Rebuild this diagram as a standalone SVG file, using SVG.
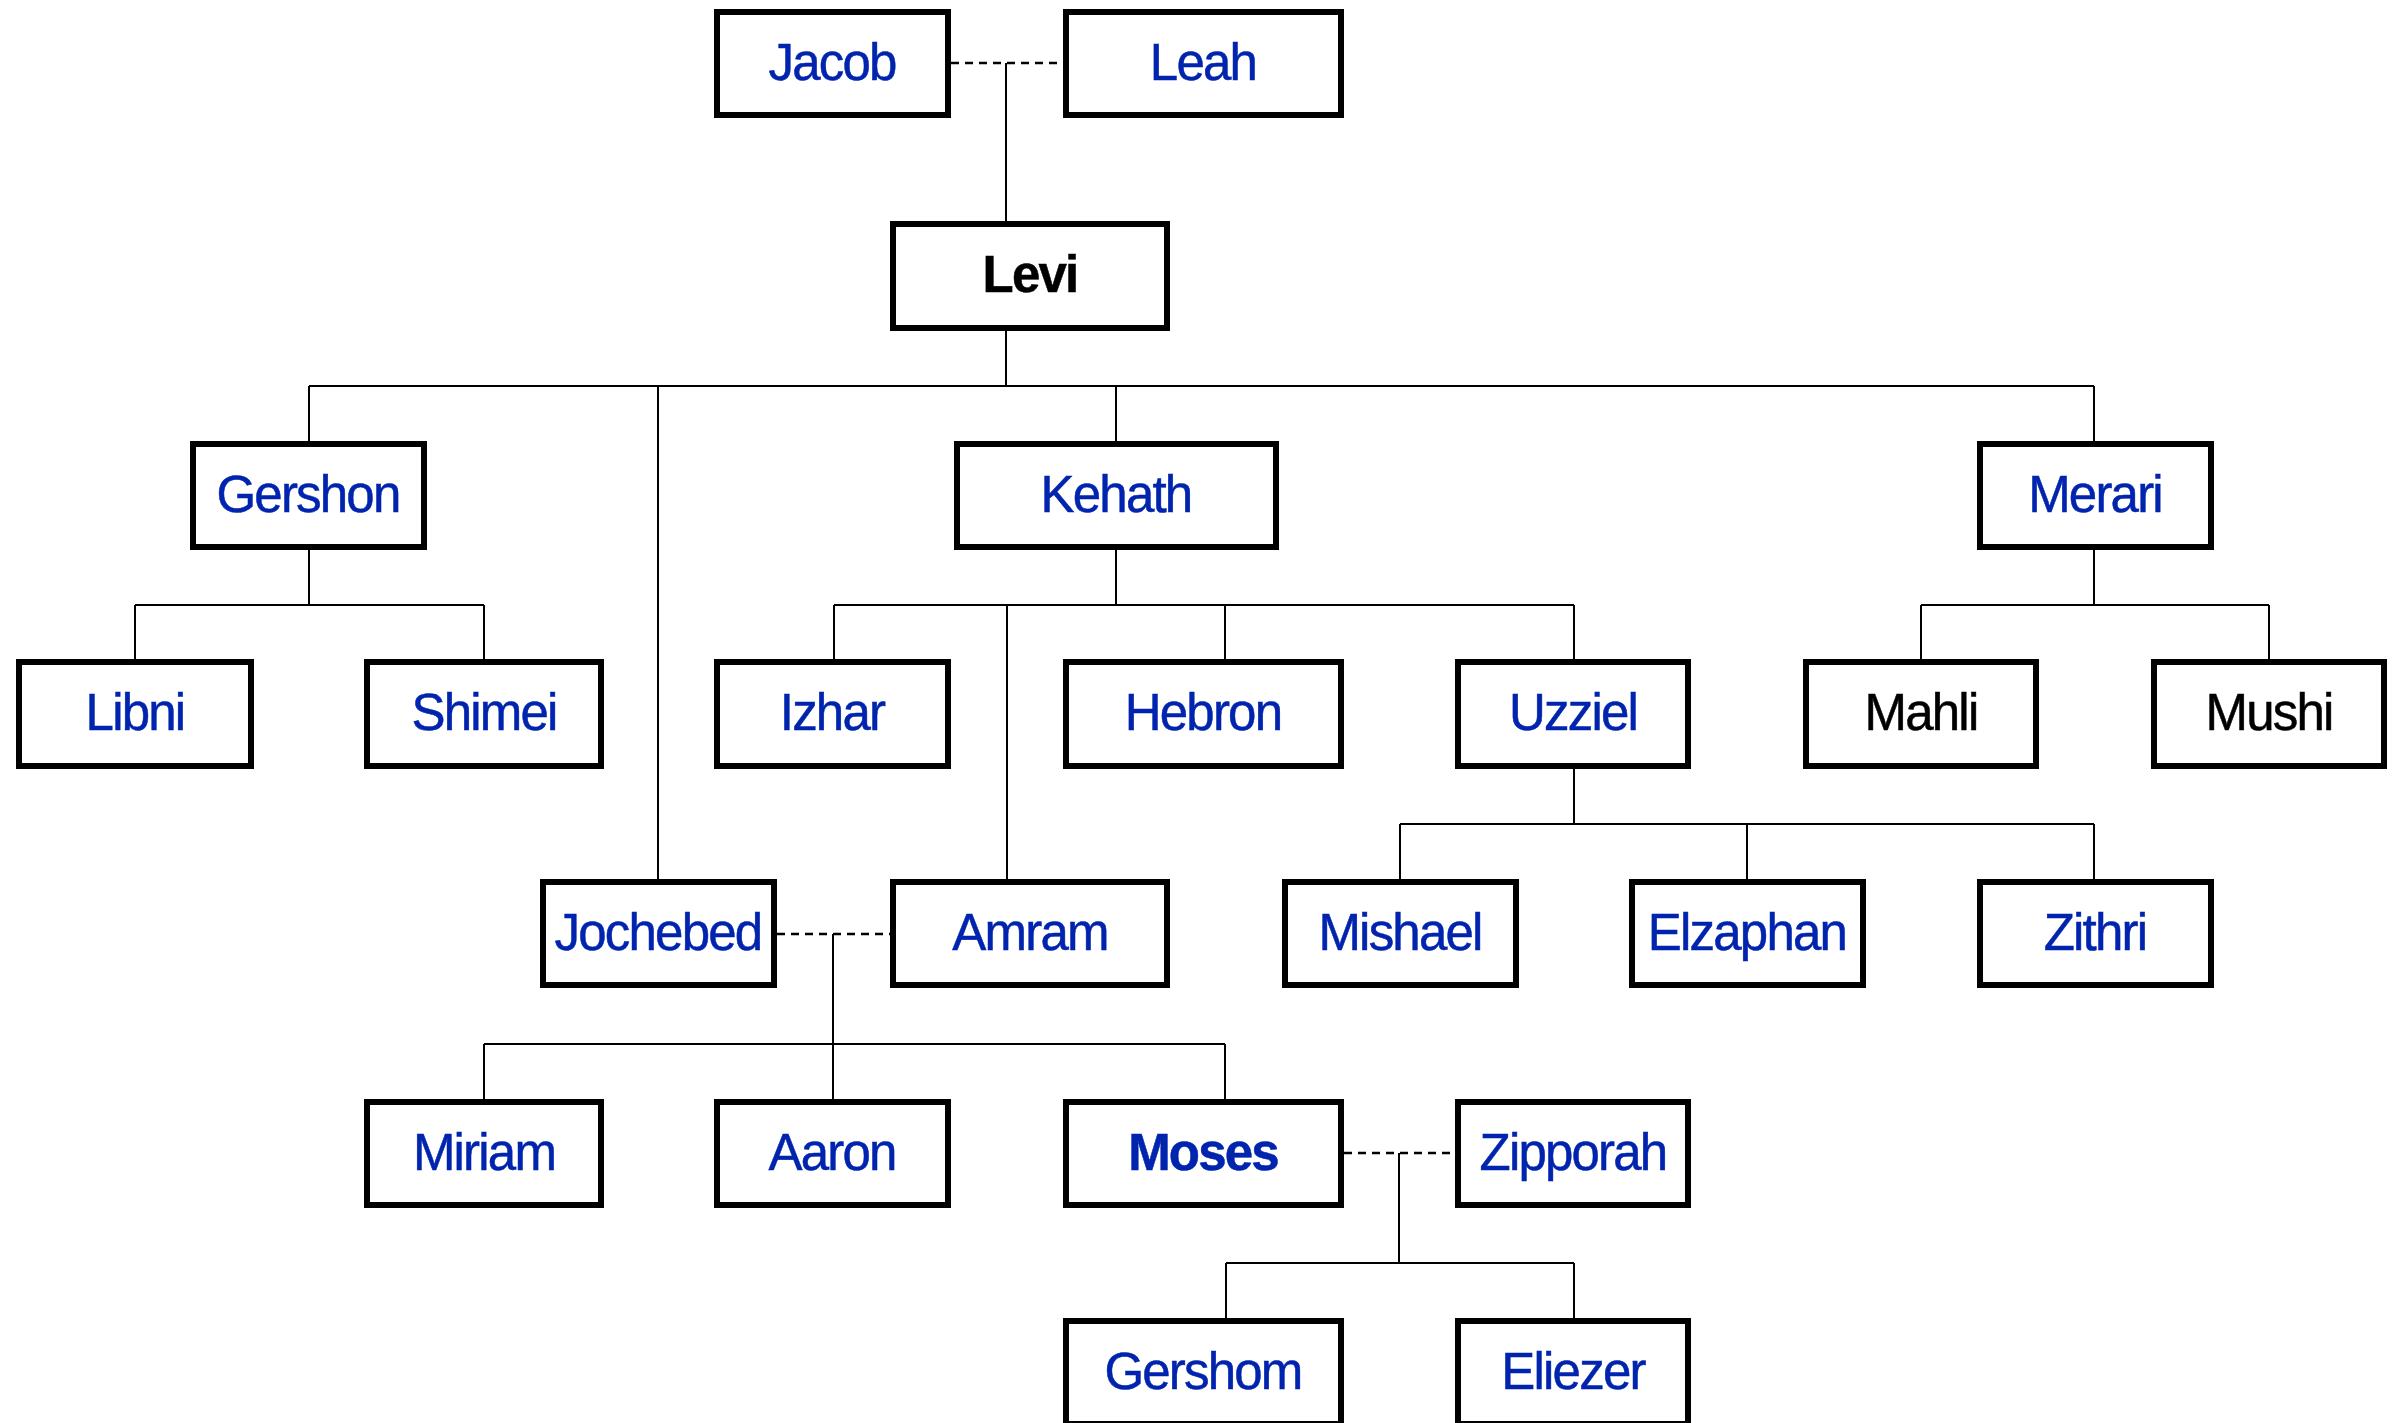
<svg xmlns="http://www.w3.org/2000/svg" width="2397" height="1423" viewBox="0 0 2397 1423">
<style>
.box{fill:#fff;stroke:#000;stroke-width:6}
.t{font-family:"Liberation Sans",Arial,sans-serif;font-size:51px;letter-spacing:-1.8px;text-anchor:middle;fill:#0024ae;stroke:#0024ae;stroke-width:0.5}
.k{fill:#000;stroke:#000}
.b{font-weight:bold}
.ln{fill:none;stroke:#000;stroke-width:2}
.dash{fill:none;stroke:#000;stroke-width:2.5;stroke-dasharray:8 6}
</style>
<rect width="2397" height="1423" fill="#fff"/>
<g id="connectors">
<path class="dash" d="M951 63H1063"/>
<path class="ln" d="M1006 63V221"/>
<path class="ln" d="M1006 331V386M309 386H2094M309 386V441M658 386V879M1116 386V441M2094 386V441"/>
<path class="ln" d="M309 550V605M135 605H484M135 605V659M484 605V659"/>
<path class="ln" d="M1116 550V605M834 605H1574M834 605V659M1007 605V879M1225 605V659M1574 605V659"/>
<path class="ln" d="M2094 550V605M1921 605H2269M1921 605V659M2269 605V659"/>
<path class="ln" d="M1574 768V824M1400 824H2094M1400 824V879M1747 824V879M2094 824V879"/>
<path class="dash" d="M777 934H890"/>
<path class="ln" d="M833 934V1099M484 1044H1225M484 1044V1099M1225 1044V1099"/>
<path class="dash" d="M1344 1153H1455"/>
<path class="ln" d="M1399 1153V1263M1226 1263H1574M1226 1263V1318M1574 1263V1318"/>
</g>
<g id="jacob"><rect class="box" x="717" y="12" width="231" height="103"/><text class="t" x="832" y="80">Jacob</text></g>
<g id="leah"><rect class="box" x="1066" y="12" width="275" height="103"/><text class="t" x="1203" y="80">Leah</text></g>
<g id="levi"><rect class="box" x="893" y="224" width="274" height="104"/><text class="t k b" x="1030" y="292">Levi</text></g>
<g id="gershon"><rect class="box" x="193" y="444" width="231" height="103"/><text class="t" x="308" y="512">Gershon</text></g>
<g id="kehath"><rect class="box" x="957" y="444" width="319" height="103"/><text class="t" x="1116" y="512">Kehath</text></g>
<g id="merari"><rect class="box" x="1980" y="444" width="231" height="103"/><text class="t" x="2095" y="512">Merari</text></g>
<g id="libni"><rect class="box" x="19" y="662" width="232" height="104"/><text class="t" x="135" y="730">Libni</text></g>
<g id="shimei"><rect class="box" x="367" y="662" width="234" height="104"/><text class="t" x="484" y="730">Shimei</text></g>
<g id="izhar"><rect class="box" x="717" y="662" width="231" height="104"/><text class="t" x="832" y="730">Izhar</text></g>
<g id="hebron"><rect class="box" x="1066" y="662" width="275" height="104"/><text class="t" x="1203" y="730">Hebron</text></g>
<g id="uzziel"><rect class="box" x="1458" y="662" width="230" height="104"/><text class="t" x="1573" y="730">Uzziel</text></g>
<g id="mahli"><rect class="box" x="1806" y="662" width="230" height="104"/><text class="t k" x="1921" y="730">Mahli</text></g>
<g id="mushi"><rect class="box" x="2154" y="662" width="230" height="104"/><text class="t k" x="2269" y="730">Mushi</text></g>
<g id="jochebed"><rect class="box" x="543" y="882" width="231" height="103"/><text class="t" x="658" y="950">Jochebed</text></g>
<g id="amram"><rect class="box" x="893" y="882" width="274" height="103"/><text class="t" x="1030" y="950">Amram</text></g>
<g id="mishael"><rect class="box" x="1285" y="882" width="231" height="103"/><text class="t" x="1400" y="950">Mishael</text></g>
<g id="elzaphan"><rect class="box" x="1632" y="882" width="231" height="103"/><text class="t" x="1747" y="950">Elzaphan</text></g>
<g id="zithri"><rect class="box" x="1980" y="882" width="231" height="103"/><text class="t" x="2095" y="950">Zithri</text></g>
<g id="miriam"><rect class="box" x="367" y="1102" width="234" height="103"/><text class="t" x="484" y="1170">Miriam</text></g>
<g id="aaron"><rect class="box" x="717" y="1102" width="231" height="103"/><text class="t" x="832" y="1170">Aaron</text></g>
<g id="moses"><rect class="box" x="1066" y="1102" width="275" height="103"/><text class="t b" x="1203" y="1170">Moses</text></g>
<g id="zipporah"><rect class="box" x="1458" y="1102" width="230" height="103"/><text class="t" x="1573" y="1170">Zipporah</text></g>
<g id="gershom"><rect class="box" x="1066" y="1321" width="275" height="103"/><text class="t" x="1203" y="1389">Gershom</text></g>
<g id="eliezer"><rect class="box" x="1458" y="1321" width="230" height="103"/><text class="t" x="1573" y="1389">Eliezer</text></g>
</svg>
